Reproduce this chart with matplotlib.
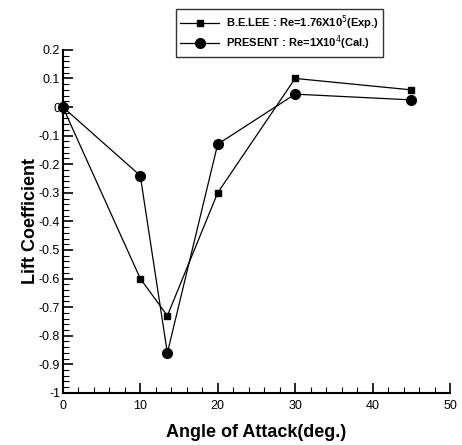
import matplotlib.pyplot as plt
from matplotlib.ticker import MultipleLocator

plt.rcParams['font.family'] = ['Liberation Sans', 'DejaVu Sans']

# Data
angle = [0, 10, 13.5, 20, 30, 45]
cl_lee = [0.0, -0.6, -0.73, -0.3, 0.1, 0.06]
cl_present = [0.0, -0.24, -0.86, -0.13, 0.045, 0.025]

label_lee = r'B.E.LEE : Re=1.76X10$^5$(Exp.)'
label_present = r'PRESENT : Re=1X10$^4$(Cal.)'

fig = plt.figure(figsize=(4.62, 4.45), dpi=100)
ax = fig.add_axes([0.136, 0.117, 0.838, 0.771])

ax.plot(angle, cl_lee, color='black', lw=0.9, marker='s', ms=5,
        label=label_lee, clip_on=False)
ax.plot(angle, cl_present, color='black', lw=0.9, marker='o', ms=7,
        label=label_present, clip_on=False)

ax.set_xlim(0, 50)
ax.set_ylim(-1, 0.2)
ax.xaxis.set_major_locator(MultipleLocator(10))
ax.xaxis.set_minor_locator(MultipleLocator(2))
ax.yaxis.set_minor_locator(MultipleLocator(0.02))
ax.set_yticks([0.2, 0.1, 0, -0.1, -0.2, -0.3, -0.4, -0.5, -0.6, -0.7, -0.8, -0.9, -1])
ax.set_yticklabels(['0.2', '0.1', '0', '-0.1', '-0.2', '-0.3', '-0.4', '-0.5',
                    '-0.6', '-0.7', '-0.8', '-0.9', '-1'])
ax.tick_params(which='major', direction='in', length=7, width=1.2, labelsize=9)
ax.tick_params(which='minor', direction='in', length=4, width=0.8)
ax.tick_params(axis='y', pad=2)
ax.tick_params(axis='x', pad=5)
ax.spines['top'].set_visible(False)
ax.spines['right'].set_visible(False)
ax.spines['left'].set_linewidth(1.5)
ax.spines['bottom'].set_linewidth(1.5)

ax.set_xlabel('Angle of Attack(deg.)', fontsize=13, fontweight='bold', labelpad=9)
ax.set_ylabel('Lift Coefficient', fontsize=13, fontweight='bold', labelpad=0)

leg = fig.legend(loc='upper right', bbox_to_anchor=(0.842, 0.992),
                 prop={'weight': 'bold', 'size': 8}, frameon=True, fancybox=False,
                 edgecolor='black', handlelength=3.5, borderpad=0.4,
                 labelspacing=0.15, handletextpad=0.6)
leg.get_frame().set_linewidth(1.0)

fig.savefig('out.png', dpi=100)
